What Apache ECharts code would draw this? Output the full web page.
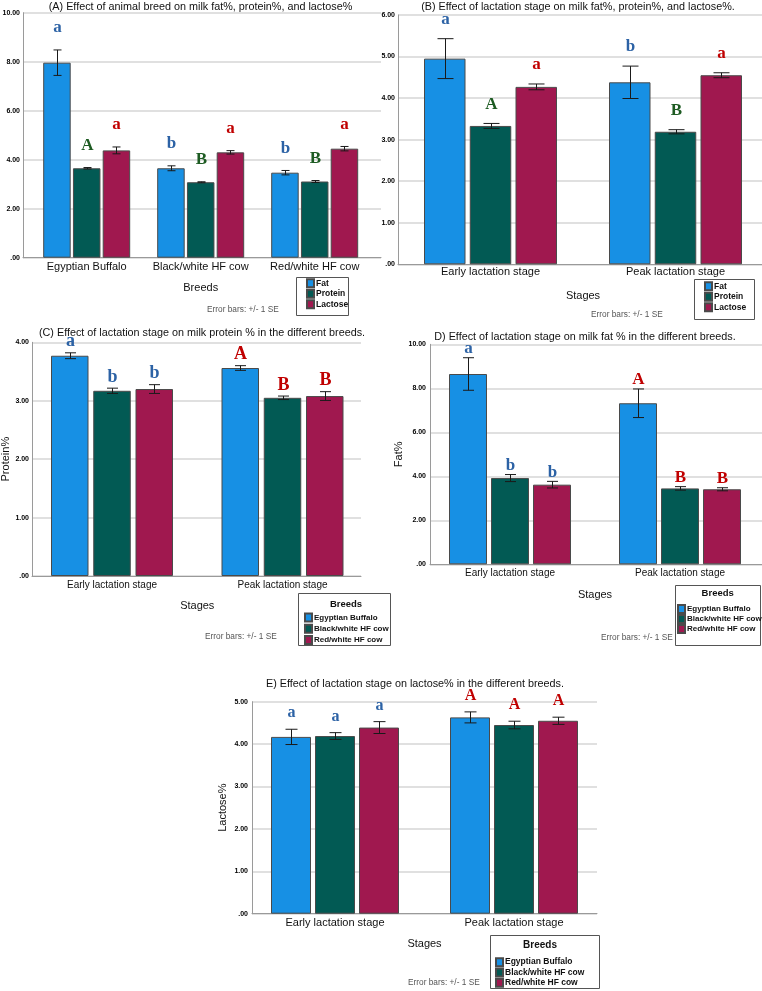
<!DOCTYPE html>
<html><head><meta charset="utf-8">
<script src="https://cdn.jsdelivr.net/npm/echarts@6/dist/echarts.min.js"></script>
<style>html,body{margin:0;padding:0;background:#fff}#c{width:762px;height:991px}</style>
</head><body><div id="c"></div>
<script>
// ---------- DATA ----------
const breeds = ['Egyptian Buffalo', 'Black/white HF cow', 'Red/white HF cow'];
const stages = ['Early lactation stage', 'Peak lactation stage'];
const components = ['Fat', 'Protein', 'Lactose'];

// (A) by breed
const aFat = [7.96, 3.65, 3.47];
const aFatSE = [0.52, 0.10, 0.09];
const aProtein = [3.65, 3.08, 3.11];
const aProteinSE = [0.03, 0.02, 0.04];
const aLactose = [4.38, 4.30, 4.45];
const aLactoseSE = [0.14, 0.07, 0.09];
const aFatLetters = ['a', 'b', 'b'];
const aProteinLetters = ['A', 'B', 'B'];
const aLactoseLetters = ['a', 'a', 'a'];
const aTicks = [0, 2, 4, 6, 8, 10];

// (B) by lactation stage
const bFat = [4.95, 4.38];
const bFatSE = [0.48, 0.39];
const bProtein = [3.33, 3.19];
const bProteinSE = [0.06, 0.05];
const bLactose = [4.27, 4.55];
const bLactoseSE = [0.07, 0.06];
const bFatLetters = ['a', 'b'];
const bProteinLetters = ['A', 'B'];
const bLactoseLetters = ['a', 'a'];
const bTicks = [0, 1, 2, 3, 4, 5, 6];

// (C) protein% by stage and breed
const cBuffalo = [3.77, 3.56];
const cBuffaloSE = [0.05, 0.04];
const cBlackWhite = [3.17, 3.05];
const cBlackWhiteSE = [0.045, 0.03];
const cRedWhite = [3.20, 3.08];
const cRedWhiteSE = [0.075, 0.075];
const cBuffaloLetters = ['a', 'A'];
const cBlackWhiteLetters = ['b', 'B'];
const cRedWhiteLetters = ['b', 'B'];
const cTicks = [0, 1, 2, 3, 4];

// (D) fat% by stage and breed
const dBuffalo = [8.65, 7.32];
const dBuffaloSE = [0.74, 0.65];
const dBlackWhite = [3.92, 3.45];
const dBlackWhiteSE = [0.16, 0.08];
const dRedWhite = [3.62, 3.41];
const dRedWhiteSE = [0.15, 0.07];
const dBuffaloLetters = ['a', 'A'];
const dBlackWhiteLetters = ['b', 'B'];
const dRedWhiteLetters = ['b', 'B'];
const dTicks = [0, 2, 4, 6, 8, 10];

// (E) lactose% by stage and breed
const eBuffalo = [4.17, 4.63];
const eBuffaloSE = [0.18, 0.13];
const eBlackWhite = [4.19, 4.45];
const eBlackWhiteSE = [0.08, 0.09];
const eRedWhite = [4.39, 4.55];
const eRedWhiteSE = [0.14, 0.085];
const eBuffaloLetters = ['a', 'A'];
const eBlackWhiteLetters = ['a', 'A'];
const eRedWhiteLetters = ['a', 'A'];
const eTicks = [0, 1, 2, 3, 4, 5];

// ---------- STYLE / BUILD ----------
const FONT = '"Liberation Sans", Arial, sans-serif';
const SERIF = '"Liberation Serif", "Times New Roman", serif';
const BAR_COLORS = ['#1790e4', '#025a54', '#a0184f'];
const L_BLUE = '#2c62a5', L_GREEN = '#1d5b22', L_RED = '#c00000';

const grid = [], xAxis = [], yAxis = [], series = [], legend = [], graphic = [];
function tickFmt(v) { return v === 0 ? '.00' : v.toFixed(2); }

function addPanel(p) {
  const gi = grid.length;
  grid.push({left: p.left, top: p.top, width: p.width, height: p.height, containLabel: false, outerBoundsMode: 'none'});
  grid.push({left: p.fgLeft, top: p.top, width: p.fgWidth, height: p.height, containLabel: false, outerBoundsMode: 'none'});
  const xb = xAxis.length;
  xAxis.push({type: 'category', gridIndex: gi, data: p.cats, axisLine: {show: true, lineStyle: {color: '#9a9a9a', width: 1}},
    axisTick: {show: false}, axisLabel: {show: false}, splitLine: {show: false}});
  xAxis.push({type: 'category', gridIndex: gi + 1, data: p.cats, axisLine: {show: false}, axisTick: {show: false}, splitLine: {show: false},
    axisLabel: {color: '#111', fontFamily: FONT, fontSize: p.catFont, margin: p.catMargin, interval: 0},
    name: p.xName, nameLocation: 'middle', nameGap: p.xNameGap,
    nameTextStyle: {color: '#111', fontFamily: FONT, fontSize: 11}});
  const yb = yAxis.length;
  const t = p.ticks;
  yAxis.push({type: 'value', gridIndex: gi, min: t[0], max: t[t.length - 1], interval: t[1] - t[0],
    axisLine: {show: true, lineStyle: {color: '#9a9a9a'}}, axisTick: {show: false},
    splitLine: {show: true, lineStyle: {color: '#d6d6d6', width: 1.5}},
    axisLabel: {formatter: tickFmt, color: '#000', fontFamily: FONT, fontWeight: 'bold', fontSize: 7, margin: p.yLabelMargin},
    name: p.yName || '', nameLocation: 'middle', nameGap: p.yNameGap || 0,
    nameTextStyle: {color: '#111', fontFamily: FONT, fontSize: 11}});
  yAxis.push({type: 'value', gridIndex: gi + 1, min: t[0], max: t[t.length - 1], interval: t[1] - t[0], show: false, splitLine: {show: false}});
  const n = p.values.length;
  const step = p.barWidth + p.barGapPx;
  p.values.forEach((vals, si) => {
    series.push({type: 'bar', name: p.names[si], xAxisIndex: xb + 1, yAxisIndex: yb + 1, data: vals,
      barWidth: p.barWidth, barGap: (p.barGapPx / p.barWidth * 100) + '%',
      itemStyle: {color: BAR_COLORS[si], borderColor: '#4a4a4a', borderWidth: 1}, emphasis: {disabled: true}, z: 2});
    const off = (si - (n - 1) / 2) * step;
    const ses = p.ses[si], letters = p.letters[si];
    series.push({type: 'custom', name: 'err' + gi + '_' + si, coordinateSystem: 'cartesian2d', xAxisIndex: xb + 1, yAxisIndex: yb + 1,
      z: 5, silent: true, clip: false,
      data: vals.map((v, ci) => [ci, v, ses[ci]]), encode: {x: 0, y: 1},
      renderItem: (params, api) => {
        const ci = api.value(0), v = api.value(1), se = api.value(2);
        const c = api.coord([ci, v]);
        const hi = api.coord([ci, v + se]);
        const lo = api.coord([ci, v - se]);
        const x = Math.round(c[0] + off) + 0.5;
        const h = p.cap / 2;
        const ls = {stroke: '#1a1a1a', lineWidth: 1};
        return {type: 'group', children: [
          {type: 'line', shape: {x1: x, y1: hi[1], x2: x, y2: lo[1]}, style: ls},
          {type: 'line', shape: {x1: x - h, y1: hi[1], x2: x + h, y2: hi[1]}, style: ls},
          {type: 'line', shape: {x1: x - h, y1: lo[1], x2: x + h, y2: lo[1]}, style: ls},
          {type: 'text', x: x, y: hi[1] - p.letterGap, style: {text: letters[params.dataIndex],
            fill: p.letterColor(si, params.dataIndex), font: 'bold ' + p.letterSize + 'px ' + SERIF,
            align: 'center', verticalAlign: 'middle', textAlign: 'center', textVerticalAlign: 'middle'}}
        ]};
      }});
  });
  legend.push({orient: 'vertical', left: p.lg.left, top: p.lg.top, padding: 0, itemWidth: 7, itemHeight: 8, itemGap: 0,
    icon: 'rect', data: p.names, selectedMode: false,
    textStyle: {fontFamily: FONT, fontWeight: 'bold', fontSize: p.lg.font, color: '#111', lineHeight: p.lg.lh, padding: [0, 0, 0, -3]}});
  graphic.push({type: 'rect', shape: {x: p.box[0] + 0.5, y: p.box[1] + 0.5, width: p.box[2], height: p.box[3]},
    style: {fill: 'none', stroke: '#555', lineWidth: 1}, z: 1});
  if (p.lgTitle) {
    graphic.push({type: 'text', x: p.lgTitle[0], y: p.lgTitle[1], style: {text: 'Breeds', font: 'bold ' + p.lgTitle[2] + 'px ' + FONT,
      fill: '#111', align: 'center', verticalAlign: 'middle', textAlign: 'center', textVerticalAlign: 'middle'}});
  }
  graphic.push({type: 'text', x: p.err[0], y: p.err[1], style: {text: 'Error bars: +/- 1 SE', font: '8.3px ' + FONT,
    fill: '#555', align: 'left', verticalAlign: 'middle', textAlign: 'left', textVerticalAlign: 'middle'}});
  graphic.push({type: 'text', x: p.title[0], y: p.title[1], style: {text: p.titleText, font: p.title[2] + 'px ' + FONT,
    fill: '#111', align: 'center', verticalAlign: 'middle', textAlign: 'center', textVerticalAlign: 'middle'}});
}

const compLetterColor = (si, ci) => [L_BLUE, L_GREEN, L_RED][si];
const stageLetterColor = (si, ci) => [L_BLUE, L_RED][ci];

addPanel({left: 23, top: 12.7, width: 358, height: 245, fgLeft: 29.7, fgWidth: 342, ticks: aTicks,
  cats: breeds, names: components, values: [aFat, aProtein, aLactose], ses: [aFatSE, aProteinSE, aLactoseSE],
  letters: [aFatLetters, aProteinLetters, aLactoseLetters], letterColor: compLetterColor,
  catFont: 11, catMargin: 4, xName: 'Breeds', xNameGap: 25, yLabelMargin: 3,
  barWidth: 27.5, barGapPx: 2.25, cap: 8, letterGap: 22, letterSize: 17,
  lg: {left: 306, top: 278, font: 8.5, lh: 10.5}, box: [296, 277, 52, 38], err: [207, 310],
  title: [200.5, 7.5, 10.8], titleText: '(A) Effect of animal breed on milk fat%, protein%, and lactose%'});

addPanel({left: 398, top: 15, width: 364, height: 249.3, fgLeft: 398, fgWidth: 370, ticks: bTicks,
  cats: stages, names: components, values: [bFat, bProtein, bLactose], ses: [bFatSE, bProteinSE, bLactoseSE],
  letters: [bFatLetters, bProteinLetters, bLactoseLetters], letterColor: compLetterColor,
  catFont: 11, catMargin: 2, xName: 'Stages', xNameGap: 25.7, yLabelMargin: 3,
  barWidth: 41.5, barGapPx: 4.25, cap: 16, letterGap: 19, letterSize: 17,
  lg: {left: 704, top: 281, font: 8.5, lh: 10.5}, box: [694, 279, 60, 40], err: [591, 315],
  title: [578, 7.5, 10.8], titleText: '(B) Effect of lactation stage on milk fat%, protein%, and lactose%.'});

addPanel({left: 32, top: 342.3, width: 329, height: 233.7, fgLeft: 26.75, fgWidth: 341, ticks: cTicks,
  cats: stages, names: breeds, values: [cBuffalo, cBlackWhite, cRedWhite], ses: [cBuffaloSE, cBlackWhiteSE, cRedWhiteSE],
  letters: [cBuffaloLetters, cBlackWhiteLetters, cRedWhiteLetters], letterColor: stageLetterColor,
  catFont: 10, catMargin: 4, xName: 'Stages', xNameGap: 24, yLabelMargin: 3, yName: 'Protein%', yNameGap: 21,
  barWidth: 37.5, barGapPx: 4.75, cap: 11, letterGap: 11, letterSize: 18,
  lg: {left: 304, top: 612, font: 8, lh: 11.2}, box: [298, 593, 92, 52], lgTitle: [346, 604, 9.5], err: [205, 637],
  title: [202, 333, 10.8], titleText: '(C) Effect of lactation stage on milk protein % in the different breeds.'});

addPanel({left: 430, top: 344.3, width: 332, height: 220, fgLeft: 425, fgWidth: 340, ticks: dTicks,
  cats: stages, names: breeds, values: [dBuffalo, dBlackWhite, dRedWhite], ses: [dBuffaloSE, dBlackWhiteSE, dRedWhiteSE],
  letters: [dBuffaloLetters, dBlackWhiteLetters, dRedWhiteLetters], letterColor: stageLetterColor,
  catFont: 10, catMargin: 4, xName: 'Stages', xNameGap: 24.7, yLabelMargin: 4, yName: 'Fat%', yNameGap: 24,
  barWidth: 38, barGapPx: 4, cap: 11, letterGap: 9, letterSize: 17,
  lg: {left: 677, top: 604, font: 8, lh: 9.7}, box: [675, 585, 85, 60], lgTitle: [717.7, 593, 9.5], err: [601, 638],
  title: [585, 337, 10.8], titleText: 'D) Effect of lactation stage on milk fat % in the different breeds.'});

addPanel({left: 252, top: 701.7, width: 345, height: 212, fgLeft: 245.5, fgWidth: 358, ticks: eTicks,
  cats: stages, names: breeds, values: [eBuffalo, eBlackWhite, eRedWhite], ses: [eBuffaloSE, eBlackWhiteSE, eRedWhiteSE],
  letters: [eBuffaloLetters, eBlackWhiteLetters, eRedWhiteLetters], letterColor: stageLetterColor,
  catFont: 11, catMargin: 4, xName: 'Stages', xNameGap: 24.3, yLabelMargin: 4, yName: 'Lactose%', yNameGap: 24,
  barWidth: 40, barGapPx: 4, cap: 12, letterGap: 16, letterSize: 16,
  lg: {left: 495, top: 957, font: 8.5, lh: 10.3}, box: [490, 935, 109, 53], lgTitle: [540, 945, 10], err: [408, 983],
  title: [415, 684, 10.8], titleText: 'E) Effect of lactation stage on lactose% in the different breeds.'});

const chart = echarts.init(document.getElementById('c'), null, {renderer: 'canvas'});
chart.setOption({animation: false, backgroundColor: '#fff', grid, xAxis, yAxis, series, legend, graphic});
</script></body></html>
